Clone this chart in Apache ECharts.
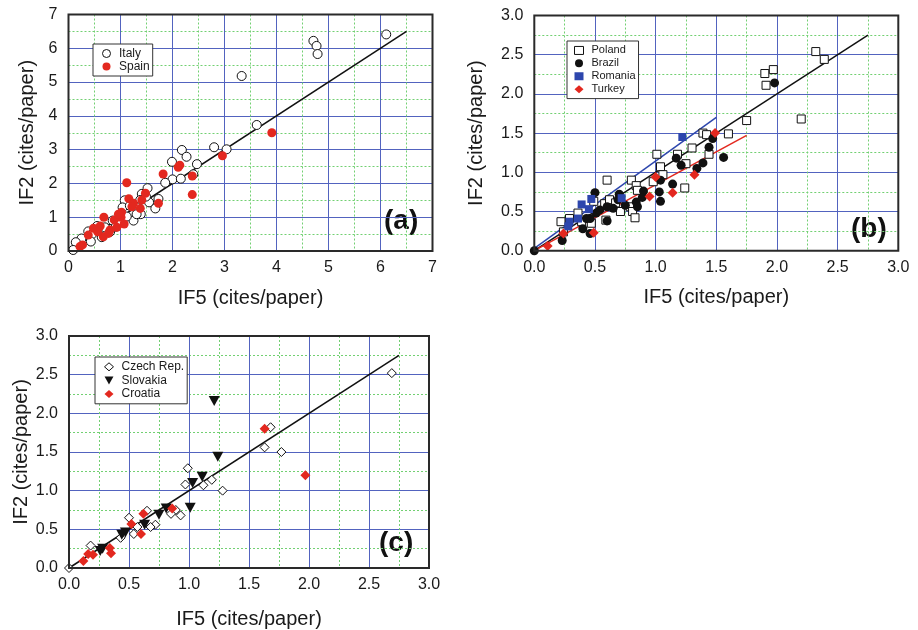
<!DOCTYPE html>
<html>
<head>
<meta charset="utf-8">
<script src="https://cdn.jsdelivr.net/npm/echarts@6/dist/echarts.min.js"></script>
<style>
html,body{margin:0;padding:0;background:#fff;}
#chart{width:918px;height:630px;}
</style>
</head>
<body>
<div id="chart"></div>
<script>
// ---- Panel (a) ----
const italy = [[6.11,6.41],[4.71,6.22],[4.77,6.07],[4.79,5.83],[3.33,5.18],[3.62,3.73],[2.80,3.07],[3.04,3.01],
 [2.18,2.99],[2.27,2.79],[1.99,2.64],[2.47,2.57],[2.00,2.12],[2.16,2.14],[1.86,2.02],[2.40,2.27],[1.52,1.86],[1.41,1.69],
 [1.08,1.50],[1.38,1.51],[1.55,1.44],[1.73,1.54],[1.67,1.26],[1.39,1.09],[1.04,1.29],[1.25,0.90],[0.85,0.90],
 [0.91,0.72],[0.70,0.70],[0.64,0.41],[0.55,0.74],[0.38,0.58],[0.45,0.49],[0.25,0.37],[0.14,0.26],[0.09,0.03],
 [1.18,1.34],[1.30,1.31],[1.49,1.61],[1.31,1.09],[1.12,1.02],[0.96,0.87],[0.80,0.57],[0.43,0.28]];
const spain = [[3.91,3.50],[2.96,2.82],[2.11,2.48],[2.14,2.54],[2.38,2.22],[2.38,1.67],[1.82,2.28],[1.12,2.02],
 [1.73,1.41],[1.48,1.71],[1.16,1.55],[1.41,1.51],[1.25,1.41],[1.22,1.31],[1.02,1.15],[1.01,1.00],[1.07,0.80],
 [0.68,1.00],[0.88,0.92],[0.96,1.09],[0.61,0.74],[0.67,0.42],[0.80,0.62],[0.48,0.67],[0.38,0.47],[0.27,0.18],
 [0.22,0.13],[0.77,0.52],[1.38,1.26],[0.93,0.70],[0.56,0.57]];
const fitA = [[0,0],[6.5,6.5]];
const ticksA = [0,1,2,3,4,5,6,7];

// ---- Panel (b) ----
const poland = [[2.32,2.54],[2.39,2.44],[1.90,2.26],[1.97,2.31],[1.91,2.11],[2.20,1.68],[1.75,1.66],[1.60,1.49],
 [1.39,1.50],[1.42,1.48],[1.44,1.23],[1.30,1.31],[1.18,1.23],[1.25,1.11],[1.24,0.80],[1.01,1.23],[1.04,1.07],
 [1.06,0.97],[0.98,0.88],[0.80,0.90],[0.84,0.83],[0.85,0.77],[0.60,0.90],[0.58,0.60],[0.62,0.65],[0.67,0.61],
 [0.71,0.50],[0.79,0.56],[0.81,0.50],[0.83,0.42],[0.59,0.39],[0.49,0.63],[0.47,0.35],[0.36,0.48],[0.29,0.41],
 [0.22,0.37],[0.39,0.37],[0.24,0.24]];
const brazil = [[1.98,2.14],[1.47,1.43],[1.44,1.32],[1.56,1.19],[1.39,1.12],[1.34,1.05],[1.17,1.18],[1.21,1.09],
 [1.14,0.85],[1.04,0.90],[1.03,0.75],[1.04,0.63],[0.90,0.76],[0.89,0.68],[0.84,0.62],[0.85,0.56],[0.70,0.72],
 [0.69,0.65],[0.65,0.54],[0.60,0.38],[0.50,0.74],[0.51,0.48],[0.54,0.52],[0.46,0.41],[0.43,0.41],[0.40,0.28],
 [0.46,0.22],[0.23,0.13],[0,0],[0.60,0.56],[0.75,0.58]];
const romania = [[1.22,1.45],[0.72,0.67],[0.47,0.66],[0.39,0.59],[0.45,0.53],[0.36,0.41],[0.29,0.37],[0.28,0.31]];
const turkey = [[1.49,1.50],[1.32,0.97],[1.14,0.74],[1.00,0.94],[0.95,0.69],[0.49,0.23],[0.11,0.06],[0.24,0.22]];
const fitB = [[0,0],[2.75,2.75]];
const fitRomania = [[0,0.03],[1.5,1.70]];
const fitTurkey = [[0,0],[1.75,1.47]];
const ticksB = [0,0.5,1.0,1.5,2.0,2.5,3.0];

// ---- Panel (c) ----
const czech = [[2.69,2.52],[1.68,1.82],[1.63,1.56],[1.77,1.50],[1.28,1.00],[1.19,1.14],[1.12,1.07],[0.99,1.29],
 [0.97,1.08],[0.93,0.68],[0.89,0.75],[0.85,0.70],[0.72,0.56],[0.68,0.53],[0.65,0.74],[0.57,0.53],[0.54,0.44],
 [0.50,0.65],[0.43,0.39],[0.18,0.29],[0,0]];
const slovakia = [[1.21,2.16],[1.24,1.44],[1.11,1.18],[1.03,1.10],[1.01,0.78],[0.81,0.77],[0.75,0.69],[0.63,0.56],
 [0.47,0.46],[0.28,0.25],[0.26,0.22],[0.44,0.43]];
const croatia = [[1.63,1.80],[1.97,1.20],[0.86,0.77],[0.62,0.70],[0.52,0.57],[0.60,0.44],[0.34,0.26],[0.35,0.19],
 [0.20,0.17],[0.16,0.18],[0.12,0.09]];
const fitC = [[0,0],[2.75,2.75]];
const ticksC = [0,0.5,1.0,1.5,2.0,2.5,3.0];

const FONT = '"Liberation Sans", Arial, Helvetica, sans-serif';
const TXT = '#1a1a1a';
const RED = '#e3281f';
const BLUE = '#2d46ad';
const DOWN_TRI = 'path://M0,0L10,0L5,9Z';

function axisX(gi, ticks, nameGap, fmt) {
  return {
    gridIndex: gi, type: 'value', min: ticks[0], max: ticks[ticks.length-1], interval: ticks[1]-ticks[0],
    name: 'IF5 (cites/paper)', nameLocation: 'middle', nameGap: nameGap,
    nameTextStyle: {fontFamily: FONT, fontSize: 20, color: TXT},
    axisLine: {show: false},
    axisTick: {show: false},
    axisLabel: {fontFamily: FONT, fontSize: 16, color: TXT, margin: 9, formatter: fmt},
    splitLine: {show: true, lineStyle: {color: '#5263bf', width: 1}},
    minorTick: {show: false, splitNumber: 2},
    minorSplitLine: {show: true, lineStyle: {color: '#72d072', width: 1, type: [2,2]}}
  };
}
function axisY(gi, ticks, nameGap, fmt) {
  return {
    gridIndex: gi, type: 'value', min: ticks[0], max: ticks[ticks.length-1], interval: ticks[1]-ticks[0],
    name: 'IF2 (cites/paper)', nameLocation: 'middle', nameGap: nameGap,
    nameTextStyle: {fontFamily: FONT, fontSize: 20, color: TXT},
    axisLine: {show: false},
    axisTick: {show: false},
    axisLabel: {fontFamily: FONT, fontSize: 16, color: TXT, margin: 11, formatter: fmt},
    splitLine: {show: true, lineStyle: {color: '#5263bf', width: 1}},
    minorTick: {show: false, splitNumber: 2},
    minorSplitLine: {show: true, lineStyle: {color: '#72d072', width: 1, type: [2,2]}}
  };
}
const f0 = v => String(v);
const f1 = v => v.toFixed(1);

function scat(name, data, xi, symbol, size, style, extra) {
  return Object.assign({
    name: name, type: 'scatter', xAxisIndex: xi, yAxisIndex: xi, data: data,
    symbol: symbol, symbolSize: size, itemStyle: Object.assign({opacity: 1}, style), z: 3
  }, extra || {});
}
function fit(data, xi, color) {
  return {
    type: 'line', xAxisIndex: xi, yAxisIndex: xi, data: data, showSymbol: false, symbol: 'none',
    lineStyle: {color: color, width: 1.5}, silent: true, z: 2, animation: false
  };
}
const open = {color: '#fff', borderColor: '#111', borderWidth: 1};

function legend(left, top, names, fs, rowH, padL) {
  return {
    orient: 'vertical', left: left, top: top, data: names,
    backgroundColor: '#fff', borderColor: '#333', borderWidth: 1,
    padding: [3, 3, 3, padL], itemGap: 0, itemWidth: 9, itemHeight: 8,
    itemStyle: {borderWidth: 1, opacity: 1},
    textStyle: {fontFamily: FONT, fontSize: fs, color: TXT, lineHeight: rowH, padding: [0,0,0,3]},
    selectedMode: false, z: 10
  };
}

const gridBase = {show: true, borderColor: '#2a2a2a', borderWidth: 2, backgroundColor: 'transparent', z: 4};

const option = {
  animation: false,
  backgroundColor: '#fff',
  grid: [
    Object.assign({left: 68.5, top: 14.5, width: 364, height: 236.5}, gridBase),
    Object.assign({left: 534.3, top: 15.5, width: 364, height: 235.2}, gridBase),
    Object.assign({left: 69, top: 336, width: 360, height: 232.3}, gridBase)
  ],
  xAxis: [axisX(0, ticksA, 37, f0), axisX(1, ticksB, 37, f1), axisX(2, ticksC, 41, f1)],
  yAxis: [axisY(0, ticksA, 31, f0), axisY(1, ticksB, 48, f1), axisY(2, ticksC, 32, f1)],
  legend: [
    legend(93, 44, ['Italy', 'Spain'], 12, 13, 9),
    legend(567, 41, ['Poland', 'Brazil', 'Romania', 'Turkey'], 11, 12.9, 7),
    legend(95, 357, ['Czech Rep.', {name: 'Slovakia', icon: DOWN_TRI}, 'Croatia'], 12, 13.6, 9)
  ],
  series: [
    fit(fitA, 0, '#111'),
    scat('Italy', italy, 0, 'circle', 9, open),
    scat('Spain', spain, 0, 'circle', 9, {color: RED}),
    fit(fitB, 1, '#111'),
    fit(fitRomania, 1, BLUE),
    fit(fitTurkey, 1, RED),
    scat('Poland', poland, 1, 'rect', 8, open),
    scat('Brazil', brazil, 1, 'circle', 9, {color: '#111'}),
    scat('Romania', romania, 1, 'rect', 8, {color: BLUE}),
    scat('Turkey', turkey, 1, 'diamond', 10, {color: RED}),
    fit(fitC, 2, '#111'),
    scat('Czech Rep.', czech, 2, 'diamond', 9, open),
    scat('Slovakia', slovakia, 2, DOWN_TRI, [11, 10], {color: '#111'}),
    scat('Croatia', croatia, 2, 'diamond', 10, {color: RED})
  ],
  graphic: [
    {type: 'text', left: 384, top: 207, style: {text: '(a)', fontFamily: FONT, fontSize: 28, fontWeight: 'bold', fill: '#111'}},
    {type: 'text', left: 851, top: 215, style: {text: '(b)', fontFamily: FONT, fontSize: 28, fontWeight: 'bold', fill: '#111'}},
    {type: 'text', left: 379, top: 529, style: {text: '(c)', fontFamily: FONT, fontSize: 28, fontWeight: 'bold', fill: '#111'}}
  ]
};

const chart = echarts.init(document.getElementById('chart'), null, {renderer: 'canvas'});
chart.setOption(option);
</script>
</body>
</html>
